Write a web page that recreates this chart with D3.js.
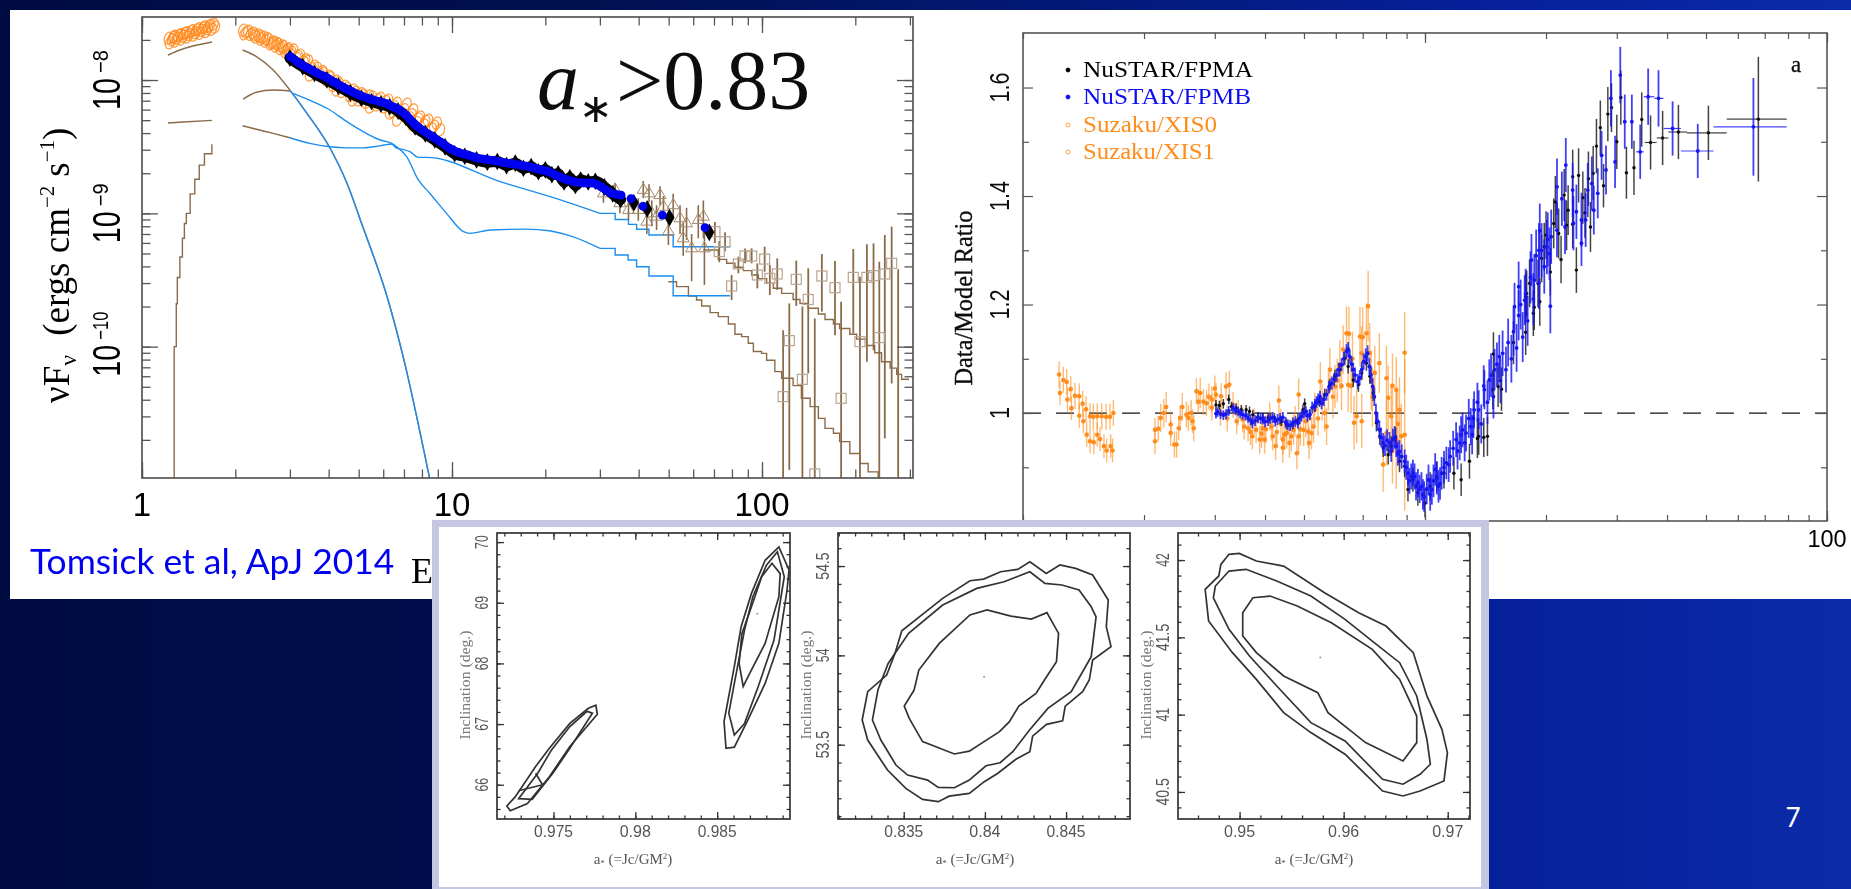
<!DOCTYPE html>
<html>
<head>
<meta charset="utf-8">
<script src="https://d3js.org/d3.v7.min.js"></script>
<style>
html, body { margin: 0; padding: 0; width: 1851px; height: 889px; overflow: hidden; background: #000c48; }
svg { display: block; position: absolute; left: 0; top: 0; }
.sans { font-family: "Liberation Sans", Arial, sans-serif; }
.serif { font-family: "Liberation Serif", "Times New Roman", serif; }
.axis path { display: none; }
</style>
</head>
<body>
<svg id="slide" width="1851" height="889"></svg>
<script>
// ---- left spectrum: [energy keV, vFv]
var fpmbSpec = [[3.01,1.5e-8],[3.21,1.34e-8],[3.43,1.23e-8],[3.66,1.13e-8],[3.92,1.05e-8],[4.18,9.6e-9],[4.47,8.8e-9],[4.77,8.15e-9],[5.1,7.6e-9],[5.45,7.2e-9],[5.82,6.9e-9],[6.2,6.6e-9],[6.5,6.25e-9],[6.8,5.93e-9],[7.1,5.48e-9],[7.6,4.64e-9],[8.1,4.15e-9],[8.65,3.76e-9],[9.24,3.4e-9],[9.87,3.06e-9],[10.5,2.86e-9],[11.3,2.73e-9],[12,2.61e-9],[12.85,2.54e-9],[13.7,2.48e-9],[14.7,2.4e-9],[15.7,2.35e-9],[16.7,2.3e-9],[17.9,2.23e-9],[19.1,2.14e-9],[20.4,2.06e-9],[21.8,1.92e-9],[23.3,1.8e-9],[24.9,1.72e-9],[26.6,1.69e-9],[28.4,1.69e-9],[30.3,1.58e-9],[32.4,1.43e-9],[35.1,1.37e-9],[37.8,1.29e-9],[41.3,1.13e-9],[47.7,9.7e-10],[65.5,7.8e-10]];
var fpmaSpec = [[3.0,1.46e-8],[3.3,1.26e-8],[3.6,1.12e-8],[3.95,1.0e-8],[4.3,9.0e-9],[4.7,8.0e-9],[5.1,7.3e-9],[5.5,6.9e-9],[5.9,6.6e-9],[6.3,6.3e-9],[6.7,5.85e-9],[7.1,5.25e-9],[7.6,4.45e-9],[8.2,3.95e-9],[8.8,3.55e-9],[9.5,3.15e-9],[10.2,2.8e-9],[11,2.68e-9],[12,2.52e-9],[13,2.42e-9],[14,2.45e-9],[15,2.28e-9],[16,2.38e-9],[17,2.18e-9],[18,2.24e-9],[19,2.05e-9],[20,2.12e-9],[21,1.95e-9],[22,1.98e-9],[23,1.72e-9],[24,1.85e-9],[25,1.62e-9],[26,1.78e-9],[27.5,1.72e-9],[29,1.74e-9],[31,1.58e-9],[33,1.4e-9],[35,1.27e-9],[38.6,1.2e-9],[42.6,1.08e-9],[50.3,9.3e-10],[67.6,7.2e-10]];
var xisSpec = [[1.22,2.06e-8],[1.27,2.13e-8],[1.33,2.2e-8],[1.39,2.27e-8],[1.45,2.35e-8],[1.52,2.43e-8],[1.59,2.51e-8],[1.66,2.58e-8],[1.7,2.61e-8],[1.23,1.9e-8],[1.28,1.96e-8],[1.34,2.03e-8],[1.4,2.1e-8],[1.47,2.17e-8],[1.54,2.24e-8],[1.61,2.31e-8],[1.68,2.4e-8],[1.25,2e-8],[1.3,2.06e-8],[1.36,2.13e-8],[1.42,2.2e-8],[1.49,2.27e-8],[1.56,2.36e-8],[1.63,2.43e-8],[1.72,2.5e-8],[1.26,2.09e-8],[1.31,2.16e-8],[1.37,2.24e-8],[1.43,2.3e-8],[1.5,2.38e-8],[1.57,2.46e-8],[1.64,2.53e-8],
[2.12,2.37e-8],[2.2,2.33e-8],[2.28,2.25e-8],[2.37,2.18e-8],[2.46,2.1e-8],[2.55,2.01e-8],[2.65,1.93e-8],[2.75,1.85e-8],[2.85,1.77e-8],[2.96,1.72e-8],[3.07,1.68e-8],[3.23,1.54e-8],[3.43,1.39e-8],[3.66,1.23e-8],[3.84,1.13e-8],[4.04,1.04e-8],[4.29,9.5e-9],[4.57,8.7e-9],[4.87,8.1e-9],[5.16,7.7e-9],[5.52,7.45e-9],[5.86,7.3e-9],[6.22,7.08e-9],[6.63,6.7e-9],[7.14,6.6e-9],[7.49,5.96e-9],[7.88,5.28e-9],[8.37,5e-9],[8.93,4.76e-9],[9.15,4.22e-9],[3.48,1.09e-8],[4.25,8.41e-9],[4.79,7.08e-9],[5.44,6.27e-9],[6.31,5.66e-9],[6.65,5e-9],[7.49,4.6e-9],
[2.14,2.22e-8],[2.24,2.2e-8],[2.33,2.1e-8],[2.42,2.03e-8],[2.5,1.96e-8],[2.6,1.87e-8],[2.7,1.8e-8],[2.8,1.72e-8],[2.9,1.64e-8],[3,1.56e-8],[3.15,1.45e-8],[3.32,1.36e-8],[3.52,1.22e-8],[3.74,1.1e-8],[3.95,1.0e-8],[4.15,9.1e-9],[4.42,8.2e-9],[4.7,7.6e-9],[5,7.1e-9],[5.3,6.8e-9],[5.7,6.5e-9],[6.05,6.3e-9],[6.45,5.8e-9],[6.9,5.6e-9],[7.3,5.2e-9],[7.7,4.8e-9],[8.1,4.6e-9],[8.6,4.3e-9],
[2.17,2.3e-8],[2.31,2.17e-8],[2.41,2.12e-8],[2.52,2.05e-8],[2.63,1.9e-8],[2.72,1.88e-8],[2.83,1.8e-8],[2.93,1.69e-8],[3.03,1.62e-8],[3.18,1.5e-8],[3.36,1.42e-8],[3.58,1.27e-8],[3.8,1.16e-8],[4.0,1.07e-8],[4.22,9.8e-9],[4.5,9e-9],[4.8,8.4e-9],[5.08,7.9e-9],[5.4,7.6e-9],[5.75,7.1e-9],[6.1,6.9e-9],[6.5,6.3e-9],[7,6e-9],[7.4,5.5e-9],[7.8,5.1e-9],[8.2,4.9e-9],[8.75,4.5e-9]];
// HXD/PIN triangles: [energy, flux, low, high]
var pinSpec = [[30.8,1.41e-9,1.2e-9,1.6e-9],[33.6,1.5e-9,1.3e-9,1.7e-9],[34.8,1.19e-9,1e-9,1.4e-9],[37.1,1.06e-9,9e-10,1.25e-9],[39.9,1.06e-9,8.8e-10,1.3e-9],[41.4,1.5e-9,1.3e-9,1.75e-9],[42.5,8.66e-10,7e-10,1.05e-9],[43.2,1.41e-9,1.2e-9,1.65e-9],[44.1,1e-9,8e-10,1.25e-9],[45.7,9.44e-10,7.5e-10,1.15e-9],[46.9,1.37e-9,1.15e-9,1.6e-9],[48.1,1.12e-9,9e-10,1.35e-9],[49.9,7.29e-10,5.8e-10,9e-10],[51.7,1.15e-9,9e-10,1.4e-9],[54.4,9.17e-10,7e-10,1.15e-9],[55.7,6.49e-10,4.8e-10,8.5e-10],[57.1,8.41e-10,6.3e-10,1.1e-9],[59.3,5.46e-10,3.1e-10,7e-10],[62.3,8.91e-10,6.5e-10,1.15e-9],[64.7,9.44e-10,6.5e-10,1.25e-9],[65.2,5.46e-10,2.9e-10,8.2e-10]];
// GSO squares: [energy, flux, low, high]
var gsoSpec = [[70.5,7.29e-10,6e-10,8.6e-10],[72.8,5.16e-10,4.3e-10,6.2e-10],[76,6.13e-10,5.2e-10,7.2e-10],[79.8,2.85e-10,2.24e-10,3.45e-10],[83.9,4.17e-10,3.55e-10,4.73e-10],[88.2,4.79e-10,4.22e-10,5.46e-10],[92.6,4.79e-10,4.22e-10,5.46e-10],[96.6,3.45e-10,2.74e-10,4.22e-10],[102,4.54e-10,3.65e-10,5.62e-10],[106,3.25e-10,2.44e-10,4.1e-10],[112,3.51e-10,2.66e-10,4.6e-10],[117,4.22e-11,1e-12,1.33e-10],[122.5,1.11e-10,1.19e-11,2.11e-10],[129,3.2e-10,2.02e-10,4.42e-10],[135,5.69e-11,1e-12,2e-10],[141,2.26e-10,6.3e-11,3.87e-10],[148,1.11e-11,1e-12,1.63e-10],[156,3.39e-10,1.83e-10,4.95e-10],[172,2.77e-10,1.22e-10,4.39e-10],[180,4.1e-11,1e-12,2.17e-10],[197,3.31e-10,1.26e-10,5.4e-10],[207,1.09e-10,1e-12,3.35e-10],[218,3.31e-10,7.7e-11,5.86e-10],[229,3.41e-10,9.4e-11,5.96e-10],[239,1.17e-10,1e-12,4.34e-10],[249,3.51e-10,2.05e-11,6.88e-10],[262,4.22e-10,5.3e-11,7.94e-10],[275,9e-12,1e-12,3.8e-10]];

// model curves: brown outside the data range, blue where the fit applies
var thermalLow = [[1.213,1.54e-8],[1.326,1.68e-8],[1.505,1.83e-8],[1.682,1.93e-8]];
var thermalHigh = [[2.11,1.68e-8],[2.34,1.5e-8],[2.65,1.19e-8],[3,8.41e-9],[3.4,5.65e-9],[4.04,3.09e-9],[4.58,1.69e-9],[5.16,7.89e-10],[6.22,2.24e-10],[6.95,8.5e-11],[8.49,1e-11]];
var powerLow = [[1.213,4.76e-9],[1.356,4.84e-9],[1.682,4.98e-9]];
var powerBrown = [[2.11,4.54e-9],[2.34,4.27e-9],[2.65,3.98e-9],[3,3.69e-9]];
var powerBlue = [[3,3.69e-9],[3.48,3.35e-9],[4.04,3.16e-9],[4.57,3.1e-9],[5.17,3.1e-9],[5.86,3.21e-9],[6.39,3.31e-9],[6.63,3.08e-9],[6.88,3.03e-9],[7.32,2.9e-9],[7.79,2.63e-9],[8.29,2.63e-9],[14.3,1.73e-9],[23.4,1.22e-9],[30,1e-9]];
var powerBlueSteps = [[30,1e-9],[33.6,9e-10],[37.1,8.27e-10],[39.4,7.59e-10],[43.2,6.88e-10],[51.7,5.62e-10],[78.9,5.62e-10]];
var powerTail = [[64.7,5.31e-10],[72.3,4.52e-10],[76.9,4.22e-10],[81.8,3.94e-10],[87.1,3.72e-10],[92.6,3.45e-10],[97.3,3.24e-10],[103.5,2.99e-10],[108.8,2.74e-10],[115.7,2.51e-10],[126,2.26e-10],[132.6,2.11e-10],[141,1.94e-10],[152,1.76e-10],[159.7,1.6e-10],[170,1.48e-10],[178,1.37e-10],[192,1.24e-10],[202,1.14e-10],[217.5,1.02e-10],[231,9e-11],[243,7.7e-11],[259,6.9e-11],[272,6.2e-11],[282,5.7e-11],[296.5,5.6e-11]];
var reflLowSteps = [[1.27,4e-12],[1.27,1e-10],[1.29,2.1e-10],[1.3,3.3e-10],[1.325,4.7e-10],[1.35,6.5e-10],[1.37,8.4e-10],[1.39,1.0e-9],[1.43,1.4e-9],[1.48,1.8e-9],[1.53,2.3e-9],[1.59,2.8e-9],[1.68,3.3e-9]];
var reflBrown = [[2.12,7.2e-9],[2.34,8.09e-9],[2.65,8.41e-9],[3,8.27e-9]];
var reflBlue = [[3.07,7.95e-9],[3.57,6.87e-9],[4.04,5.96e-9],[4.58,4.87e-9],[5.17,4.1e-9],[5.86,3.55e-9],[6.39,3.35e-9],[6.63,3.16e-9],[7.14,2.66e-9],[7.79,1.78e-9],[8.49,1.41e-9],[9.6,1e-9],[10.9,7.28e-10],[11.4,7.08e-10],[13.3,7.5e-10],[17.4,7.62e-10],[20.6,7.41e-10],[24.5,6.68e-10],[30,5.46e-10]];
var reflBlueSteps = [[30,5.46e-10],[33.6,4.87e-10],[37,4.47e-10],[39.4,3.98e-10],[43.2,3.39e-10],[51.7,2.41e-10],[78.9,2.41e-10]];
var reflTail = [[49.9,3.07e-10],[53,2.82e-10],[57.9,2.4e-10],[61.5,2.24e-10],[63.9,2.02e-10],[68,1.8e-10],[72.3,1.68e-10],[77.9,1.48e-10],[81.8,1.24e-10],[86,1.19e-10],[90.3,1.06e-10],[93.8,9.2e-11],[99.7,8.9e-11],[103.5,7.9e-11],[110,6.5e-11],[115.7,5.8e-11],[126,5.1e-11],[134,4.1e-11],[143,3.55e-11],[152,2.9e-11],[159.7,2.44e-11],[170,2.24e-11],[178,1.94e-11],[192,1.58e-11],[207,1.33e-11],[220,1.15e-11],[237,1.03e-11]];
var specTicks = ["1", "10", "100"];
var specExp = ["\u22128", "\u22129", "\u221210"];

// ---- right ratio plot: [energy keV, ratio, error]
var xisRatio = [[1.23,1.071,.024],[1.26,1.061,.024],[1.284,1.057,.024],[1.314,1.044,.024],[1.347,1.032,.024],[1.38,1.031,.024],[1.407,1.017,.024],[1.435,1.007,.024],[1.468,.994,.024],[1.496,.993,.024],[1.53,.994,.024],[1.57,.994,.024],[1.61,.993,.024],[1.646,.993,.024],[1.678,1,.024],
[1.236,1.037,.022],[1.29,1.025,.022],[1.32,1.009,.022],[1.38,.995,.022],[1.413,.985,.022],[1.44,.96,.022],[1.468,.948,.022],[1.5,.946,.022],[1.53,.96,.022],[1.554,.952,.022],[1.59,.939,.022],[1.615,.931,.022],[1.652,.939,.022],[1.67,.931,.022],
[2.13,.969,.022],[2.13,.948,.024],[2.17,.971,.024],[2.2,.991,.026],[2.24,1,.026],[2.27,1.011,.028],[2.33,.979,.024],[2.33,.963,.024],[2.38,.942,.024],[2.41,.942,.024],[2.44,.972,.022],[2.46,.991,.024],[2.49,1.011,.026],[2.55,.997,.024],[2.58,.991,.024],[2.64,.985,.022],[2.66,.972,.024],[2.73,1.021,.022],[2.76,1.037,.028],[2.81,1.021,.024],[2.86,1.018,.024],[2.95,1.025,.024],[3.02,1.034,.022],[3.11,1.031,.024],[3.2,1.049,.026],[3.26,1.052,.026],
[3.33,1.015,.024],[3.43,1,.024],[3.52,.988,.024],[3.63,.972,.024],[3.72,.957,.024],[3.8,.969,.024],[3.88,.951,.026],[3.99,.951,.026],[3.95,.972,.026],[4.11,.994,.026],[4.18,.957,.026],[4.25,.939,.026],[4.33,1.023,.028],[4.43,.951,.028],[4.43,.936,.028],[4.53,.963,.028],[4.65,.957,.028],[4.71,.969,.028],[4.8,.926,.03],[4.85,.957,.03],[4.85,1.034,.03],[4.99,.969,.03],[5.12,.966,.03],[5.22,.963,.03],[5.32,1.006,.032],[5.49,1.058,.036],[5.69,.975,.034],[5.8,1.08,.04],[5.97,1.049,.04],[6.14,1.089,.045],[6.26,1.117,.045],[6.38,1.147,.05],[6.47,1.146,.05],[6.44,1.052,.05],[6.66,.982,.05],[6.76,.994,.05],[6.89,1.141,.055],[6.96,.985,.05],[7.0,1.14,.055],[7.15,1.147,.055],[7.22,1.197,.065],[7.29,1.111,.055],[7.5,1.074,.05],[7.7,1.092,.055],[7.87,.905,.05],[8.02,1.064,.06],[8.1,1.028,.06],[8.24,.994,.06],[8.48,1.043,.06],[8.64,1.006,.06],[8.9,1.111,.075],[8.73,.957,.06],[8.02,.963,.06],[8.9,.96,.14],[8.48,.95,.09],
[2.62,1,.024],[2.7,1.04,.024],[2.9,1.03,.024],[2.95,1.01,.024],[3,1.045,.024],[3.1,1,.024],[3.22,.99,.024],[3.4,.985,.024],[3.55,.975,.024],[3.68,.965,.024],[3.76,.985,.024],[3.92,.962,.026],[4.02,.97,.026],[4.15,.975,.026],[4.28,.965,.026],[4.38,.98,.028],[4.48,.96,.028],[4.6,.945,.028],[4.75,.985,.028],[4.9,.97,.03],[5.05,.985,.03],[5.15,.945,.03],[5.28,.975,.03],[5.42,.99,.032],[5.55,1.02,.034],[5.63,1,.034],[5.75,1.04,.036],[5.9,1.03,.04],[6.05,1.06,.04],[6.2,1.05,.045],[6.55,1.05,.05],[6.6,1.1,.05],[6.95,1.11,.05],[7.35,1.06,.055],[7.4,1.03,.055],[8.3,1.05,.06],[8.55,.98,.06],[8.3,.93,.06]];

var fpmaRatio = [[3.02,1.015,.009],[3.08,1.014,.009],[3.15,1.017,.009],[3.25,1.025,.009],[3.3,1.012,.009],[3.39,1.009,.009],[3.49,1.006,.009],[3.59,1.006,.009],[3.66,1.003,.009],[3.73,.997,.009],[3.84,.993,.009],[3.95,.991,.009],[4.07,.991,.009],[4.22,.991,.009],[4.39,.985,.009],[4.52,.979,.009],[4.69,.979,.009],[4.83,.988,.01],[5.02,1.017,.01],[4.97,1.006,.01],[5.17,.997,.01],[5.32,1.012,.01],[5.47,1.021,.01],[5.63,1.034,.011],[5.8,1.052,.011],[5.97,1.068,.012],[6.14,1.08,.012],[6.32,1.101,.012],[6.44,1.086,.013],[6.63,1.061,.013],[6.83,1.052,.013],[6.96,1.074,.013],[7.15,1.092,.014],[7.29,1.068,.014],[7.43,1.037,.015],[7.57,.982,.016],[7.72,.957,.016],[7.87,.936,.017],[8.1,.923,.018],[8.24,.939,.018],[8.45,.956,.018],[8.64,.911,.02],[8.9,.902,.02],[9.07,.859,.022],[9.33,.877,.022],[9.6,.853,.024],[10,.834,.026],[10.3,.865,.026],[10.7,.883,.028],[11.15,.889,.028],[11.8,.889,.03],[12.3,.877,.03],[12.9,.911,.032],[13.5,.953,.036],[13.6,.957,.034],[14,.955,.036],[14.3,.957,.036],[14.75,1.043,.036],[14.8,1.109,.04],[15.2,1.049,.038],[15.5,1.044,.04],[16.6,1.13,.04],[17.8,1.215,.042],[17.8,1.149,.042],[17.9,1.2205,.042],[18.2,1.239,.044],[18.6,1.184,.042],[18.7,1.195,.042],[19.1,1.239,.044],[19.3,1.205,.044],[19.5,1.285,.044],[19.8,1.3065,.044],[20,1.328,.044],[20.5,1.26,.044],[20.9,1.3495,.046],[21.1,1.389,.048],[21.5,1.331,.046],[21.8,1.283,.044],[22.2,1.4017,.048],[22.5,1.346,.046],[22.7,1.374,.046],[23.3,1.4355,.05],[23.3,1.348,.044],[23.8,1.2635,.042],[24.1,1.438,.05],[24.7,1.397,.048],[25,1.369,.046],[25.5,1.432,.05],[25.8,1.343,.046],[26.2,1.442,.05],[26.7,1.492,.05],[27.3,1.526,.05],[27.8,1.419,.04],[28.5,1.551,.05],[29.1,1.563,.045],[30,1.5,.05],[30.7,1.5816,.05],[31.7,1.443,.048],[33.1,1.452,.05],[34.6,1.541,.05],[36.4,1.4987,.05],[39,1.507,.05],[42.7,1.518,.05],[50.7,1.5165,.05],[67.5,1.5417,.115]];

var fpmbRatio = [[3.02,.999,.009],[3.1,.998,.009],[3.2,.998,.009],[3.33,1.009,.009],[3.43,1.003,.009],[3.52,.997,.009],[3.63,.991,.009],[3.72,.982,.01],[3.84,.991,.01],[3.95,.989,.01],[4.07,.986,.01],[4.18,.992,.01],[4.3,.988,.01],[4.43,.992,.01],[4.56,.978,.01],[4.69,.982,.01],[4.83,.981,.01],[4.93,.994,.01],[5.05,1.003,.01],[5.17,.997,.01],[5.32,1.015,.011],[5.42,1.025,.011],[5.53,1.018,.011],[5.69,1.034,.011],[5.86,1.055,.012],[6.03,1.07,.012],[6.2,1.089,.012],[6.38,1.114,.013],[6.5,1.104,.013],[6.63,1.08,.013],[6.8,1.058,.014],[6.96,1.08,.014],[7.12,1.104,.015],[7.27,1.086,.015],[7.41,1.049,.016],[7.55,1,.017],[7.7,.969,.017],[7.87,.945,.018],[8.16,.945,.02],[8.32,.951,.02],[8.48,.939,.02],[8.64,.929,.021],[8.9,.911,.022],[9.07,.889,.023],[9.24,.883,.024],[9.42,.883,.024],[9.6,.871,.026],[9.8,.865,.026],[9.95,.846,.028],[10.2,.877,.028],[10.4,.859,.028],[10.6,.896,.03],[10.8,.865,.03],[11,.889,.03],[11.3,.908,.03],[11.55,.92,.03],[11.95,.951,.032],[12.2,.945,.032],[12.4,.969,.032],[12.65,.963,.034],[13,.975,.034],[13.25,1.006,.034],[13.6,1.006,.036],[14.05,1.043,.036],[14.45,1.061,.038],[14.9,1.08,.038],[15.3,1.104,.04],[13.2,.99,.036],[13.5,1.02,.036],[13.8,.98,.036],[14,1.05,.038],[14.3,1.02,.04],[14.6,1.07,.04],[14.8,1.03,.04],[15.1,1.09,.04],[15.4,1.06,.042],[15.6,1.11,.042],[15.9,1.08,.042],[16.1,1.13,.044],[16.4,1.1,.044],[16.6,1.15,.044],[16.7,1.196,.044],[16.9,1.12,.044],[17.1,1.18,.046],[17.1,1.233,.046],[17.3,1.2,.046],[17.5,1.14,.046],[17.7,1.208,.046],[17.8,1.22,.046],[18,1.17,.046],[18.3,1.25,.048],[18.4,1.282,.048],[18.6,1.21,.048],[18.7,1.245,.048],[18.9,1.29,.048],[19.2,1.24,.048],[19.2,1.3,.05],[19.3,1.336,.05],[19.5,1.3,.05],[19.8,1.27,.05],[20.1,1.306,.05],[20.2,1.32,.05],[20.4,1.294,.048],[20.5,1.197,.05],[20.6,1.325,.05],[21.3,1.417,.052],[21.3,1.337,.05],[21.9,1.395,.05],[22.3,1.343,.05],[22.4,1.457,.05],[23.3,1.411,.05],[23.4,1.35,.05],[23.8,1.371,.05],[24.5,1.356,.05],[24.5,1.313,.042],[25.1,1.356,.05],[25.4,1.411,.05],[26,1.423,.05],[26.3,1.374,.045],[26.9,1.405,.046],[27.5,1.475,.045],[28.2,1.448,.045],[29,1.58,.052],[29.7,1.463,.048],[30.6,1.623,.052],[31.4,1.537,.05],[32.7,1.537,.05],[34.3,1.4815,.05],[35.9,1.583,.052],[38.1,1.58,.052],[41.3,1.5245,.05],[47.7,1.483,.05],[65.6,1.5275,.09],
[3.05,1.002,.009],[3.15,.996,.009],[3.25,1.004,.009],[3.38,1.005,.009],[3.47,.999,.009],[3.58,.995,.009],[3.68,.987,.01],[3.78,.986,.01],[3.9,.99,.01],[4,.984,.01],[4.12,.99,.01],[4.24,.985,.01],[4.36,.99,.01],[4.5,.983,.01],[4.62,.977,.01],[4.76,.984,.01],[4.88,.99,.01],[5,1,.01],[5.1,.995,.011],[5.24,1.01,.011],[5.37,1.02,.011],[5.48,1.03,.011],[5.6,1.025,.012],[5.77,1.048,.012],[5.94,1.062,.012],[6.1,1.08,.013],[6.28,1.1,.013],[6.44,1.118,.013],[6.57,1.09,.014],[6.7,1.07,.014],[6.88,1.065,.014],[7.04,1.095,.015],[7.2,1.11,.015],[7.34,1.07,.016],[7.48,1.03,.017],[7.62,.985,.017],[7.78,.955,.018],[7.95,.94,.019],[8.05,.95,.02],[8.24,.93,.02],[8.4,.955,.021],[8.56,.925,.022],[8.75,.92,.022],[8.98,.9,.023],[9.15,.875,.024],[9.33,.89,.024],[9.5,.865,.026],[9.7,.86,.026],[9.88,.85,.028],[10.1,.86,.028],[10.3,.85,.03],[10.5,.875,.03],[10.7,.88,.03],[10.9,.87,.03],[11.15,.9,.03],[11.45,.905,.032],[11.75,.935,.032],[12.05,.93,.034],[12.3,.96,.034],[12.55,.945,.034],[12.85,.99,.036],[13.1,.96,.036]];
// energy bins at the hard end: [low, high, ratio]
var fpmaBins = [[35.2,37.7,1.4987],[37.7,40.3,1.507],[40.3,44.8,1.518],[44.8,56.3,1.5165],[56.3,79.4,1.5417]];
var fpmbBins = [[33.5,35,1.4815],[35,37.2,1.583],[37.2,39.2,1.58],[39.2,43.3,1.5245],[43.3,52.2,1.483],[52.2,79.4,1.5275]];
var ratioTicks = [1, 1.2, 1.4, 1.6];
var legendNames = ["NuSTAR/FPMA", "NuSTAR/FPMB", "Suzaku/XIS0", "Suzaku/XIS1"];

// ---- contour panels: [spin, inclination]
var panelAOuterLow = [[.97215,65.65],[.97236,65.57],[.97341,65.69],[.97475,66.13],[.976,66.63],[.97768,67.16],[.97759,67.31],[.97713,67.26],[.976,67.01],[.97475,66.6],[.97391,66.3],[.97266,65.8]];
var panelAInnerLow = [[.97287,65.77],[.9737,65.76],[.97496,66.19],[.976,66.6],[.97738,67.18],[.97705,67.21],[.976,66.96],[.97487,66.57],[.97404,66.19]];
var panelACell = [[.97391,66.19],[.97433,66],[.97287,65.9]];
var panelAOuterHigh = [[.98542,67.04],[.98554,66.6],[.98605,66.62],[.98688,67.07],[.98793,67.67],[.98877,68.33],[.98927,69.21],[.98939,69.54],[.98877,69.92],[.98793,69.7],[.98709,69.15],[.98646,68.6],[.98605,67.95]];
var panelAMidHigh = [[.98571,67.18],[.98605,66.82],[.98667,67.01],[.98751,67.62],[.98847,68.38],[.9891,69.43],[.98868,69.84],[.98801,69.62],[.98718,69.1],[.98667,68.55],[.98605,67.67]];
var panelAInnerHigh = [[.98659,67.62],[.98709,67.89],[.98793,68.33],[.98877,69.1],[.98885,69.48],[.98835,69.65],[.98772,69.43],[.98709,68.93],[.98651,68.49],[.98634,68]];
var panelBOuter = [[.83244,53.638],[.83278,53.526],[.83359,53.414],[.834,53.358],[.83513,53.255],[.83616,53.194],[.83713,53.181],[.8378,53.212],[.83904,53.227],[.83996,53.293],[.84078,53.339],[.84191,53.418],[.84277,53.461],[.84294,53.548],[.8438,53.614],[.84479,53.634],[.84495,53.716],[.84602,53.797],[.84643,53.862],[.84664,53.974],[.84777,54.049],[.84748,54.16],[.8476,54.31],[.84664,54.45],[.84559,54.487],[.84462,54.506],[.84378,54.459],[.84277,54.524],[.84202,54.481],[.84097,54.468],[.83992,54.427],[.83908,54.418],[.8374,54.319],[.83488,54.138],[.83446,54.011],[.83395,53.89],[.83278,53.797]];
var panelBMid = [[.83307,53.638],[.83359,53.526],[.83452,53.386],[.83524,53.33],[.83647,53.302],[.83713,53.261],[.83812,53.259],[.83904,53.302],[.84007,53.382],[.84094,53.399],[.84172,53.461],[.84275,53.582],[.84388,53.703],[.84532,53.797],[.84573,53.862],[.84655,53.993],[.84685,54.216],[.84655,54.272],[.8458,54.366],[.84475,54.394],[.8437,54.403],[.84277,54.468],[.84118,54.412],[.8395,54.375],[.8374,54.282],[.8353,54.123],[.83404,53.955],[.83341,53.806]];
var panelBInner = [[.83564,53.806],[.83503,53.716],[.83534,53.647],[.83616,53.517],[.83812,53.448],[.83904,53.464],[.8409,53.573],[.84151,53.629],[.84209,53.716],[.84315,53.787],[.84367,53.862],[.84441,53.965],[.84454,54.123],[.84382,54.239],[.84286,54.203],[.8416,54.22],[.84013,54.254],[.83908,54.226],[.83719,54.067],[.83593,53.918]];
var panelCOuter = [[.94669,41.81],[.94702,41.606],[.94931,41.401],[.95161,41.228],[.95423,41.013],[.95685,40.884],[.96013,40.744],[.96374,40.506],[.9657,40.474],[.96734,40.506],[.96964,40.571],[.96997,40.754],[.96944,40.905],[.968,41.121],[.96669,41.401],[.96407,41.573],[.96144,41.659],[.95816,41.789],[.95423,41.961],[.95161,41.994],[.94997,42.043],[.94898,42.037],[.9482,41.972],[.948,41.897]];
var panelCMid = [[.94748,41.756],[.94898,41.552],[.95095,41.379],[.95357,41.185],[.95685,40.948],[.96013,40.83],[.96374,40.582],[.9657,40.55],[.96734,40.614],[.96833,40.679],[.968,40.841],[.96702,41.121],[.96538,41.336],[.96275,41.476],[.96013,41.616],[.95685,41.767],[.95357,41.864],[.95062,41.94],[.94898,41.929],[.94767,41.832]];
var panelCInner = [[.9503,41.659],[.9503,41.509],[.95161,41.401],[.95423,41.25],[.95751,41.142],[.95849,41.013],[.9621,40.819],[.9657,40.7],[.96702,40.819],[.96702,40.991],[.96538,41.228],[.96275,41.422],[.95882,41.595],[.95554,41.703],[.95292,41.767],[.95128,41.756]];

var svg = d3.select("#slide");
var defs = svg.append("defs");

// slide background
var bg = defs.append("linearGradient").attr("id", "bg").attr("x1", 0).attr("x2", 1).attr("y1", 0).attr("y2", 0);
bg.append("stop").attr("offset", "0").attr("stop-color", "#000b42");
bg.append("stop").attr("offset", "0.32").attr("stop-color", "#00104f");
bg.append("stop").attr("offset", "0.8").attr("stop-color", "#06209a");
bg.append("stop").attr("offset", "1").attr("stop-color", "#0a2ba8");
svg.append("rect").attr("width", 1851).attr("height", 889).attr("fill", "url(#bg)");
svg.append("rect").attr("x", 10).attr("y", 10).attr("width", 1841).attr("height", 589).attr("fill", "#fff");

var soft = defs.append("filter").attr("id", "soft");
soft.append("feGaussianBlur").attr("stdDeviation", 0.45);

function clip(id, x, y, w, h) {
  defs.append("clipPath").attr("id", id).append("rect").attr("x", x).attr("y", y).attr("width", w).attr("height", h);
}

function logMinors(lo, hi) {
  var out = [];
  for (var d = lo; d < hi; d++) {
    for (var k = 1; k < 10; k++) out.push(k * Math.pow(10, d));
  }
  out.push(Math.pow(10, hi));
  return out;
}

// four sided frame with major and minor ticks
function frame(g, x, y, xMajor, xMinor, yMajor, yMinor, sizes, col, wid) {
  var r = x.range(), b = y.range();
  [[d3.axisBottom, b[0], xMinor, sizes.minor, -1], [d3.axisBottom, b[0], xMajor, sizes.major, -1],
   [d3.axisTop, b[1], xMinor, sizes.minor, -1], [d3.axisTop, b[1], xMajor, sizes.major, -1]].forEach(function(a) {
    g.append("g").attr("class", "axis").attr("transform", "translate(0," + a[1] + ")")
      .call(a[0](x).tickValues(a[2]).tickSize(a[3] * a[4]).tickFormat(""))
      .selectAll("line").attr("stroke", col).attr("stroke-width", wid);
  });
  [[d3.axisLeft, r[0], yMinor, sizes.minor], [d3.axisLeft, r[0], yMajor, sizes.major],
   [d3.axisRight, r[1], yMinor, sizes.minor], [d3.axisRight, r[1], yMajor, sizes.major]].forEach(function(a) {
    g.append("g").attr("class", "axis").attr("transform", "translate(" + a[1] + ",0)")
      .call(a[0](y).tickValues(a[2]).tickSize(-a[3]).tickFormat(""))
      .selectAll("line").attr("stroke", col).attr("stroke-width", wid);
  });
  g.append("rect").attr("x", r[0]).attr("y", b[1]).attr("width", r[1] - r[0]).attr("height", b[0] - b[1])
    .attr("fill", "none").attr("stroke", col).attr("stroke-width", wid + 0.4);
}

// ---- left spectrum
var specX = d3.scaleLog().domain([1, 307]).range([142, 913]);
var specY = d3.scaleLog().domain([1.035e-11, 2.97e-8]).range([478, 17]);
clip("specClip", 142, 17, 771, 461);
var spec = svg.append("g").attr("filter", "url(#soft)");
var specData = spec.append("g").attr("clip-path", "url(#specClip)");
var specLine = d3.line().curve(d3.curveMonotoneX).x(function(d) { return specX(d[0]); }).y(function(d) { return specY(d[1]); });
var specStep = d3.line().curve(d3.curveStepAfter).x(function(d) { return specX(d[0]); }).y(function(d) { return specY(d[1]); });

function curve(data, col, gen) {
  specData.append("path").datum(data).attr("d", gen || specLine).attr("fill", "none").attr("stroke", col).attr("stroke-width", 1.4);
}
var brown = "#8b6b4a", skyBlue = "#1b8df0";
[thermalLow, thermalHigh, powerLow, powerBrown, reflBrown].forEach(function(c) { curve(c, brown); });
curve(reflLowSteps, brown, specStep);
curve(powerTail, brown, specStep);
curve(reflTail, brown, specStep);
curve(thermalHigh.slice(3), skyBlue);
curve(powerBlue, skyBlue);
curve(reflBlue, skyBlue);
curve(powerBlueSteps, skyBlue, specStep);
curve(reflBlueSteps, skyBlue, specStep);

function errorBars(g, data, x, y, col, wid) {
  g.selectAll(null).data(data).enter().append("line")
    .attr("x1", function(d) { return x(d[0]); }).attr("x2", function(d) { return x(d[0]); })
    .attr("y1", function(d) { return y(d[2]); }).attr("y2", function(d) { return y(d[3]); })
    .attr("stroke", col).attr("stroke-width", wid);
}
errorBars(specData, pinSpec, specX, specY, brown, 1.6);
errorBars(specData, gsoSpec, specX, specY, brown, 1.8);

var triangle = d3.symbol().type(d3.symbolTriangle).size(62);
specData.selectAll(null).data(pinSpec).enter().append("path").attr("d", triangle)
  .attr("transform", function(d) { return "translate(" + specX(d[0]) + "," + specY(d[1]) + ")"; })
  .attr("fill", "none").attr("stroke", "#a48a6c").attr("stroke-width", 1);
specData.selectAll(null).data(gsoSpec).enter().append("rect")
  .attr("x", function(d) { return specX(d[0]) - 5; }).attr("y", function(d) { return specY(d[1]) - 5; })
  .attr("width", 10).attr("height", 10)
  .attr("fill", "none").attr("stroke", "#b7a591").attr("stroke-width", 1.2);
specData.selectAll(null).data(xisSpec).enter().append("ellipse")
  .attr("cx", function(d) { return specX(d[0]); }).attr("cy", function(d) { return specY(d[1]); })
  .attr("rx", 4.4).attr("ry", 6.2)
  .attr("transform", function(d) { return "rotate(20 " + specX(d[0]) + " " + specY(d[1]) + ")"; })
  .attr("fill", "none").attr("stroke", "#ff8a1c").attr("stroke-width", 1.2).attr("opacity", 0.85);

// the NuSTAR points sit so close that below 35 keV they read as one thick band
function band(data, col, wid) {
  specData.append("path").datum(data.filter(function(d) { return d[0] < 36; })).attr("d", specLine)
    .attr("fill", "none").attr("stroke", col).attr("stroke-width", wid).attr("stroke-linecap", "round");
}
band(fpmaSpec, "#000", 11);
var diamond = d3.symbol().type(d3.symbolDiamond).size(90);
specData.selectAll(null).data(fpmaSpec).enter().append("path").attr("d", diamond)
  .attr("transform", function(d) { return "translate(" + specX(d[0]) + "," + specY(d[1]) + ")"; })
  .attr("fill", "#000");
band(fpmbSpec, "#0000f0", 8.5);
specData.selectAll(null).data(fpmbSpec).enter().append("circle")
  .attr("cx", function(d) { return specX(d[0]); }).attr("cy", function(d) { return specY(d[1]); })
  .attr("r", 4.4).attr("fill", "#0000f0");

frame(spec, specX, specY, [1, 10, 100], logMinors(0, 3).filter(function(d) { return d <= 307; }),
  [1e-10, 1e-9, 1e-8], logMinors(-11, -7).filter(function(d) { return d <= 2.97e-8 && d >= 1.035e-11; }),
  { major: 16, minor: 8.5 }, "#555", 1.3);

specTicks.forEach(function(t) {
  spec.append("text").attr("class", "sans").attr("x", specX(+t)).attr("y", 516)
    .attr("text-anchor", "middle").attr("font-size", 33).attr("fill", "#000").text(t);
});
specExp.forEach(function(e, i) {
  var py = specY(Math.pow(10, -8 - i));
  spec.append("text").attr("class", "sans").attr("font-size", 39).attr("fill", "#000")
    .attr("textLength", 32).attr("lengthAdjust", "spacingAndGlyphs")
    .attr("transform", "translate(120," + (py + 30) + ") rotate(-90)").text("10");
  var expLen = i === 2 ? 28 : 23;
  spec.append("text").attr("class", "sans").attr("font-size", 22).attr("fill", "#000")
    .attr("textLength", expLen).attr("lengthAdjust", "spacingAndGlyphs")
    .attr("transform", "translate(108," + (py - 7) + ") rotate(-90)").text(e);
});

var specLabel = spec.append("text").attr("class", "serif").attr("font-size", 37).attr("fill", "#000")
  .attr("transform", "translate(69,403) rotate(-90)");
specLabel.append("tspan").text("\u03bdF");
specLabel.append("tspan").attr("font-size", 24).attr("dy", 7).text("\u03bd");
specLabel.append("tspan").attr("dy", -7).attr("dx", 19).text("(ergs cm");
specLabel.append("tspan").attr("font-size", 21).attr("dy", -15).text("\u22122");
specLabel.append("tspan").attr("dy", 15).attr("dx", 9).text("s");
specLabel.append("tspan").attr("font-size", 21).attr("dy", -15).text("\u22121");
specLabel.append("tspan").attr("dy", 15).text(")");

spec.append("text").attr("class", "serif").attr("x", 537).attr("y", 109).attr("font-size", 84)
  .attr("font-style", "italic").attr("fill", "#111").text("a");
spec.append("text").attr("class", "serif").attr("x", 579).attr("y", 122).attr("font-size", 40)
  .attr("fill", "#111").text("\u2217");
spec.append("text").attr("class", "serif").attr("x", 616).attr("y", 109).attr("font-size", 84)
  .attr("fill", "#111").text(">0.83");

svg.append("text").attr("x", 30).attr("y", 574).attr("font-family", "Lato, 'Open Sans', sans-serif").attr("font-size", 35.4)
  .attr("fill", "#0000f0").text("Tomsick et al, ApJ 2014");
svg.append("text").attr("class", "serif").attr("x", 411).attr("y", 583).attr("font-size", 36).attr("fill", "#000").text("E");

// ---- right ratio plot
var ratioX = d3.scaleLog().domain([1, 100]).range([1023, 1827]);
var ratioY = d3.scaleLinear().domain([0.801, 1.7005]).range([521, 33]);
clip("ratioClip", 1023, 33, 804, 488);
var ratio = svg.append("g").attr("filter", "url(#soft)");
ratio.append("line").attr("x1", 1023).attr("x2", 1827).attr("y1", ratioY(1)).attr("y2", ratioY(1))
  .attr("stroke", "#111").attr("stroke-width", 1.3).attr("stroke-dasharray", "18 15");
var ratioData = ratio.append("g").attr("clip-path", "url(#ratioClip)");

function ratioSeries(data, bins, col, wid, opacity, r) {
  ratioData.selectAll(null).data(data).enter().append("line")
    .attr("x1", function(d) { return ratioX(d[0]); }).attr("x2", function(d) { return ratioX(d[0]); })
    .attr("y1", function(d) { return ratioY(d[1] - d[2]); }).attr("y2", function(d) { return ratioY(d[1] + d[2]); })
    .attr("stroke", col).attr("stroke-width", wid).attr("opacity", opacity);
  ratioData.selectAll(null).data(bins).enter().append("line")
    .attr("x1", function(d) { return ratioX(d[0]); }).attr("x2", function(d) { return ratioX(d[1]); })
    .attr("y1", function(d) { return ratioY(d[2]); }).attr("y2", function(d) { return ratioY(d[2]); })
    .attr("stroke", col).attr("stroke-width", 1.2).attr("opacity", opacity);
  ratioData.selectAll(null).data(data).enter().append("circle")
    .attr("cx", function(d) { return ratioX(d[0]); }).attr("cy", function(d) { return ratioY(d[1]); })
    .attr("r", r).attr("fill", col);
}
ratioSeries(xisRatio, [], "#ff8c1a", 1.4, 0.6, 2.3);
ratioSeries(fpmaRatio, fpmaBins, "#111", 1.5, 0.78, 1.7);
ratioSeries(fpmbRatio, fpmbBins, "#1414f5", 1.8, 0.8, 1.9);

frame(ratio, ratioX, ratioY, [10, 100], logMinors(0, 2), ratioTicks,
  d3.range(0.9, 1.7, 0.2).map(function(d) { return +d.toFixed(1); }), { major: 10, minor: 6 }, "#555", 1.2);

ratioTicks.forEach(function(t) {
  ratio.append("text").attr("class", "sans").attr("font-size", 28).attr("fill", "#111")
    .attr("text-anchor", "middle").attr("textLength", t === 1 ? 12 : 30).attr("lengthAdjust", "spacingAndGlyphs")
    .attr("transform", "translate(1009," + ratioY(t) + ") rotate(-90)").text(t);
});
ratio.append("text").attr("class", "sans").attr("x", 1827).attr("y", 547).attr("text-anchor", "middle")
  .attr("font-size", 23.5).attr("fill", "#000").text("100");
ratio.append("text").attr("class", "serif").attr("font-size", 26).attr("fill", "#111")
  .attr("stroke", "#111").attr("stroke-width", 0.35)
  .attr("text-anchor", "middle").attr("textLength", 175).attr("lengthAdjust", "spacingAndGlyphs")
  .attr("transform", "translate(972,298) rotate(-90)").text("Data/Model Ratio");
ratio.append("text").attr("class", "serif").attr("x", 1796).attr("y", 72).attr("text-anchor", "middle")
  .attr("font-size", 23).attr("fill", "#111").attr("stroke", "#111").attr("stroke-width", 0.3).text("a");

var legendCols = ["#000", "#1010f0", "#ff8c1a", "#ff8c1a"];
var legendWidths = [170, 168, 134, 132];
var legendRows = [77, 104, 132, 159];
legendNames.forEach(function(n, i) {
  ratio.append("circle").attr("cx", 1068).attr("cy", legendRows[i] - 7).attr("r", 2)
    .attr("fill", i < 2 ? legendCols[i] : "none").attr("stroke", legendCols[i]).attr("stroke-width", 0.8);
  ratio.append("text").attr("class", "serif").attr("x", 1083).attr("y", legendRows[i])
    .attr("font-size", 23.5).attr("fill", legendCols[i])
    .attr("textLength", legendWidths[i]).attr("lengthAdjust", "spacingAndGlyphs").text(n);
});

// ---- inset with the three contour panels
svg.append("rect").attr("x", 432).attr("y", 520).attr("width", 1057).attr("height", 369).attr("fill", "#c4c6e2");
svg.append("rect").attr("x", 439).attr("y", 527).attr("width", 1042).attr("height", 360).attr("fill", "#fff");

var panels = [
  { xd: [.97155, .98945], yd: [65.435, 70.15], xr: [497, 790], xt: [.975, .98, .985], yt: [66, 67, 68, 69, 70], xs: .001, ys: .2,
    lines: [panelAOuterLow, panelAInnerLow, panelAOuterHigh, panelAMidHigh, panelAInnerHigh], open: [panelACell], best: [.98745, 68.82], labelX: 633, xfmt: ["0.975", "0.98", "0.985"], yfmt: ["66", "67", "68", "69", "70"] },
  { xd: [.83095, .84894], yd: [53.084, 54.685], xr: [838, 1130], xt: [.835, .84, .845], yt: [53.5, 54, 54.5], xs: .001, ys: .1,
    lines: [panelBOuter, panelBMid, panelBInner], open: [], best: [.83995, 53.88], labelX: 975, xfmt: ["0.835", "0.84", "0.845"], yfmt: ["53.5", "54", "54.5"] },
  { xd: [.94408, .97214], yd: [40.325, 42.175], xr: [1178, 1470], xt: [.95, .96, .97], yt: [40.5, 41, 41.5, 42], xs: .002, ys: .1,
    lines: [panelCOuter, panelCMid, panelCInner], open: [], best: [.95775, 41.37], labelX: 1314, xfmt: ["0.95", "0.96", "0.97"], yfmt: ["40.5", "41", "41.5", "42"] }
];

panels.forEach(function(p) {
  var g = svg.append("g").attr("filter", "url(#soft)");
  var x = d3.scaleLinear().domain(p.xd).range(p.xr);
  var y = d3.scaleLinear().domain(p.yd).range([819, 533]);
  var line = d3.line().x(function(d) { return x(d[0]); }).y(function(d) { return y(d[1]); });
  var closed = d3.line().curve(d3.curveLinearClosed).x(line.x()).y(line.y());
  p.lines.forEach(function(c) {
    g.append("path").datum(c).attr("d", closed).attr("fill", "none").attr("stroke", "#333").attr("stroke-width", 1.7);
  });
  p.open.forEach(function(c) {
    g.append("path").datum(c).attr("d", line).attr("fill", "none").attr("stroke", "#333").attr("stroke-width", 1.7);
  });
  g.append("circle").attr("cx", x(p.best[0])).attr("cy", y(p.best[1])).attr("r", 1).attr("fill", "#999");
  var xMinor = d3.range(Math.ceil(p.xd[0] / p.xs), p.xd[1] / p.xs).map(function(k) { return +(k * p.xs).toFixed(4); });
  var yMinor = d3.range(Math.ceil(p.yd[0] / p.ys), p.yd[1] / p.ys).map(function(k) { return +(k * p.ys).toFixed(2); });
  frame(g, x, y, p.xt, xMinor, p.yt, yMinor, { major: 7, minor: 3.5 }, "#333", 1.3);
  p.xt.forEach(function(t, i) {
    g.append("text").attr("class", "sans").attr("x", x(t)).attr("y", 837).attr("text-anchor", "middle")
      .attr("font-size", 16).attr("fill", "#555").attr("textLength", p.xfmt[i].length * 7.8).attr("lengthAdjust", "spacingAndGlyphs").text(p.xfmt[i]);
  });
  p.yt.forEach(function(t, i) {
    g.append("text").attr("class", "sans").attr("text-anchor", "middle").attr("font-size", 19).attr("fill", "#555")
      .attr("textLength", p.yfmt[i].length * 6.8).attr("lengthAdjust", "spacingAndGlyphs")
      .attr("transform", "translate(" + (p.xr[0] - 9) + "," + y(t) + ") rotate(-90)").text(p.yfmt[i]);
  });
  g.append("text").attr("class", "serif").attr("font-size", 15).attr("fill", "#777").attr("text-anchor", "middle")
    .attr("textLength", 109).attr("lengthAdjust", "spacingAndGlyphs")
    .attr("transform", "translate(" + (p.xr[0] - 27) + ",685) rotate(-90)").text("Inclination (deg.)");
  var xl = g.append("text").attr("class", "serif").attr("x", p.labelX).attr("y", 864).attr("text-anchor", "middle")
    .attr("font-size", 15).attr("fill", "#555");
  xl.append("tspan").text("a");
  xl.append("tspan").attr("font-size", 9).attr("dy", 2).text("*");
  xl.append("tspan").attr("dy", -2).text(" (=Jc/GM");
  xl.append("tspan").attr("font-size", 9).attr("dy", -5).text("2");
  xl.append("tspan").attr("dy", 5).text(")");
});

svg.append("text").attr("x", 1793).attr("y", 827).attr("text-anchor", "middle").attr("font-family", "Lato, 'Open Sans', sans-serif")
  .attr("font-size", 26).attr("fill", "#fff").text("7");
</script>
</body>
</html>
